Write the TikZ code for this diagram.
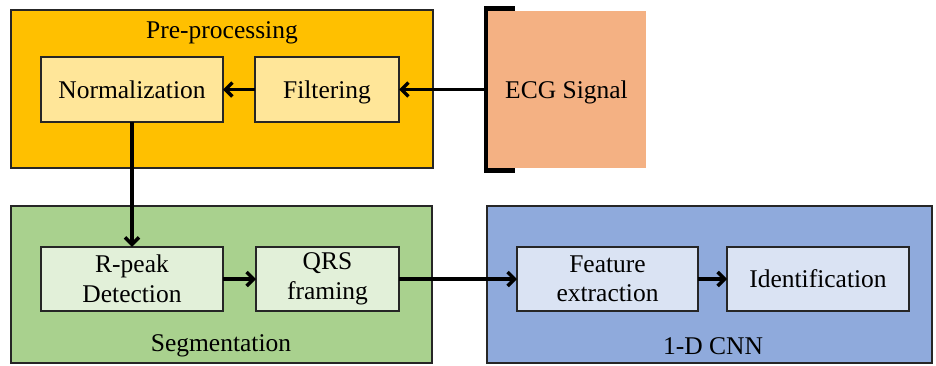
\documentclass[tikz,border=0pt]{standalone}
\usepackage{fontspec}
\setmainfont{Liberation Serif}
\usetikzlibrary{arrows.meta}
\definecolor{preC}{HTML}{FFC000}
\definecolor{preIn}{HTML}{FFE699}
\definecolor{segC}{HTML}{A9D18E}
\definecolor{segIn}{HTML}{E2F0D9}
\definecolor{cnnC}{HTML}{8FAADC}
\definecolor{cnnIn}{HTML}{DAE3F3}
\definecolor{ecgC}{HTML}{F4B183}
\begin{document}
\begin{tikzpicture}[x=1pt,y=-1pt,
  every node/.style={font=\fontsize{25.5}{29.5}\selectfont, inner sep=0pt, outer sep=0pt},
  group/.style={draw=black!85, line width=2pt, rectangle},
  inbox/.style={draw=black!85, line width=2.2pt, rectangle, align=center, minimum height=64.5pt},
  oneline/.style={text height=17.5pt, text depth=0pt},
  flow/.style={draw=black, line width=3.4pt, -{Straight Barb[length=7pt,width=14pt,line width=3.4pt]}}
]
\useasboundingbox (0,0) rectangle (936,365);
% groups
\node[group, fill=preC, minimum width=422pt, minimum height=158pt] (pre) at (222,89) {};
\node[group, fill=segC, minimum width=421pt, minimum height=157pt] (seg) at (221.5,284.5) {};
\node[group, fill=cnnC, minimum width=445pt, minimum height=157pt] (cnn) at (709.5,284.5) {};
\node[oneline, fill=ecgC, minimum width=159pt, minimum height=157pt] (ecg) at (566.5,89.5) {ECG Signal};
% bracket
\draw[line width=4.5pt, line cap=butt] ([shift={(28pt,2.5pt)}]ecg.north west) coordinate (bt) -- ([shift={(-1pt,2.5pt)}]ecg.north west) -- ([shift={(-1pt,-2.5pt)}]ecg.south west) -- ([shift={(28pt,-2.5pt)}]ecg.south west) coordinate (bb);
% labels
\node (prel) at (222,33) {Pre-processing};
\node (segl) at (221,346) {Segmentation};
\node (cnnl) at (713,346) {1-D CNN};
% inner boxes
\node[inbox, oneline, fill=preIn, minimum width=182pt] (norm) at (132,89.5) {Normalization};
\node[inbox, oneline, fill=preIn, minimum width=144pt] (filt) at (327,89.5) {Filtering};
\node[inbox, fill=segIn, minimum width=182pt] (rpk) at (132,279) {R-peak\\Detection};
\node[inbox, fill=segIn, minimum width=143pt] (qrs) at (327.5,279) {QRS\\framing};
\node[inbox, fill=cnnIn, minimum width=181pt] (feat) at (607.5,279) {Feature\\extraction};
\node[inbox, oneline, fill=cnnIn, minimum width=182pt] (ident) at (818,279) {Identification};
% connectors
\coordinate (ecgin) at ([xshift=-2pt]ecg.west);
\draw[flow] (ecgin) -- (filt.east);
\draw[flow] (filt.west) -- (norm.east);
\draw[flow] (norm.south) -- (rpk.north);
\draw[flow] (rpk.east) -- (qrs.west);
\draw[flow] (qrs.east) -- (feat.west);
\draw[flow] (feat.east) -- (ident.west);
\end{tikzpicture}
\end{document}
